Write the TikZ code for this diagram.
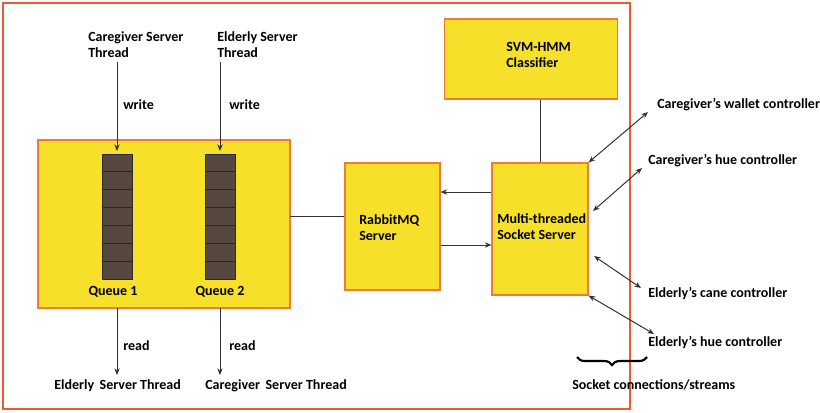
\documentclass[tikz,border=0pt]{standalone}
\usepackage{fontspec}
\setmainfont{Carlito}
\usetikzlibrary{decorations.pathreplacing,arrows.meta,calc}
\definecolor{boxyellow}{HTML}{F6E02A}
\definecolor{boxedge}{HTML}{F07A3A}
\definecolor{frameorange}{HTML}{EE5A2A}
\definecolor{cellbrown}{HTML}{564740}
\definecolor{cellline}{HTML}{2E2622}
\definecolor{linegray}{HTML}{333333}
\begin{document}
\begin{tikzpicture}[x=0.75pt,y=-0.75pt,
  font=\fontsize{10.5pt}{12pt}\selectfont\bfseries,
  ybox/.style={draw=boxedge,fill=boxyellow,line width=0.8pt,inner sep=0pt},
  qbox/.style={draw=cellline,fill=cellbrown,line width=0.6pt,inner sep=0pt,minimum width=30*0.75pt,minimum height=125*0.75pt},
  lbl/.style={anchor=west,align=left,inner sep=0pt},
  conn/.style={draw=linegray,line width=0.75pt},
  arr/.style={conn,-{Stealth[length=5pt,width=4pt]}},
  biarr/.style={conn,{Stealth[length=5pt,width=4pt]}-{Stealth[length=5pt,width=4pt]}}]
\useasboundingbox (0,0) rectangle (820,412);
% outer frame
\draw[frameorange,line width=1.6pt] (3,3) rectangle (630,409);
% main box
\node[ybox,minimum width=252*0.75pt,minimum height=168*0.75pt] (main) at (164,224) {};
% queues
\node[qbox] (q1) at (117,216.5) {};
\node[qbox] (q2) at (220,216.5) {};
\foreach \i in {1,...,6}{
  \draw[cellline,line width=0.6pt] ($(q1.north west)!\i/7!(q1.south west)$) -- ($(q1.north east)!\i/7!(q1.south east)$);
  \draw[cellline,line width=0.6pt] ($(q2.north west)!\i/7!(q2.south west)$) -- ($(q2.north east)!\i/7!(q2.south east)$);
}
\node[inner sep=0pt] (q1l) at (113,292) {Queue 1};
\node[inner sep=0pt] (q2l) at (220,292) {Queue 2};
% top threads
\node[lbl] (cst) at (88,45) {Caregiver Server\\Thread};
\node[lbl] (est) at (217,45) {Elderly Server\\Thread};
\coordinate (w1s) at (117,62);
\coordinate (w2s) at (220,62);
\draw[arr] (w1s) -- (117,151);
\draw[arr] (w2s) -- (220,151);
\node[lbl] (wr1) at (123,105) {write};
\node[lbl] (wr2) at (229,105) {write};
% bottom threads
\coordinate (r1e) at (117,375);
\coordinate (r2e) at (220,375);
\draw[arr] (117,308) -- (r1e);
\draw[arr] (220,308) -- (r2e);
\node[lbl] (rd1) at (123,346) {read};
\node[lbl] (rd2) at (229,346) {read};
\node[lbl] (eb) at (54,386) {Elderly\hspace{0.4em}Server Thread};
\node[lbl] (cb) at (205,386) {Caregiver\hspace{0.4em}Server Thread};
% RabbitMQ
\node[ybox,minimum width=95*0.75pt,minimum height=127*0.75pt] (rmq) at (392.5,226.5) {};
\node[lbl] (rmqt) at (359,228) {RabbitMQ\\Server};
\draw[conn] (290,216) -- (rmq.west |- 0,216);
% socket server
\node[ybox,minimum width=96*0.75pt,minimum height=132*0.75pt] (sock) at (540,229) {};
\node[lbl] (sockt) at (497,227) {Multi-threaded\\Socket Server};
\draw[arr] (sock.west |- 0,192) -- (rmq.east |- 0,192);
\draw[arr] (rmq.east |- 0,245) -- (sock.west |- 0,245);
% SVM
\node[ybox,minimum width=173*0.75pt,minimum height=80*0.75pt] (svm) at (531,59) {};
\node[lbl] (svmt) at (506,55) {SVM-HMM\\Classifier};
\draw[conn] (svm.south -| 540,0) -- (sock.north -| 540,0);
% controllers
\node[lbl] (cw) at (657,105) {Caregiver’s wallet controller};
\node[lbl] (ch) at (648,161) {Caregiver’s hue controller};
\node[lbl] (ec) at (648,293) {Elderly’s cane controller};
\node[lbl] (eh) at (648,342) {Elderly’s hue controller};
\coordinate (cwa) at (648,112);
\coordinate (cha) at (642,168);
\coordinate (eca) at (641,288);
\coordinate (eha) at (654,334);
\draw[biarr] (sock.north east) -- (cwa);
\draw[biarr] (593,211) -- (cha);
\draw[biarr] (594,256) -- (eca);
\draw[biarr] (sock.south east) -- (eha);
% brace
\draw[line width=1.6pt,decorate,decoration={brace,mirror,amplitude=6pt}] (577,357) -- (647,357);
\node[lbl] (scs) at (572,385) {Socket connections/streams};
\end{tikzpicture}
\end{document}
